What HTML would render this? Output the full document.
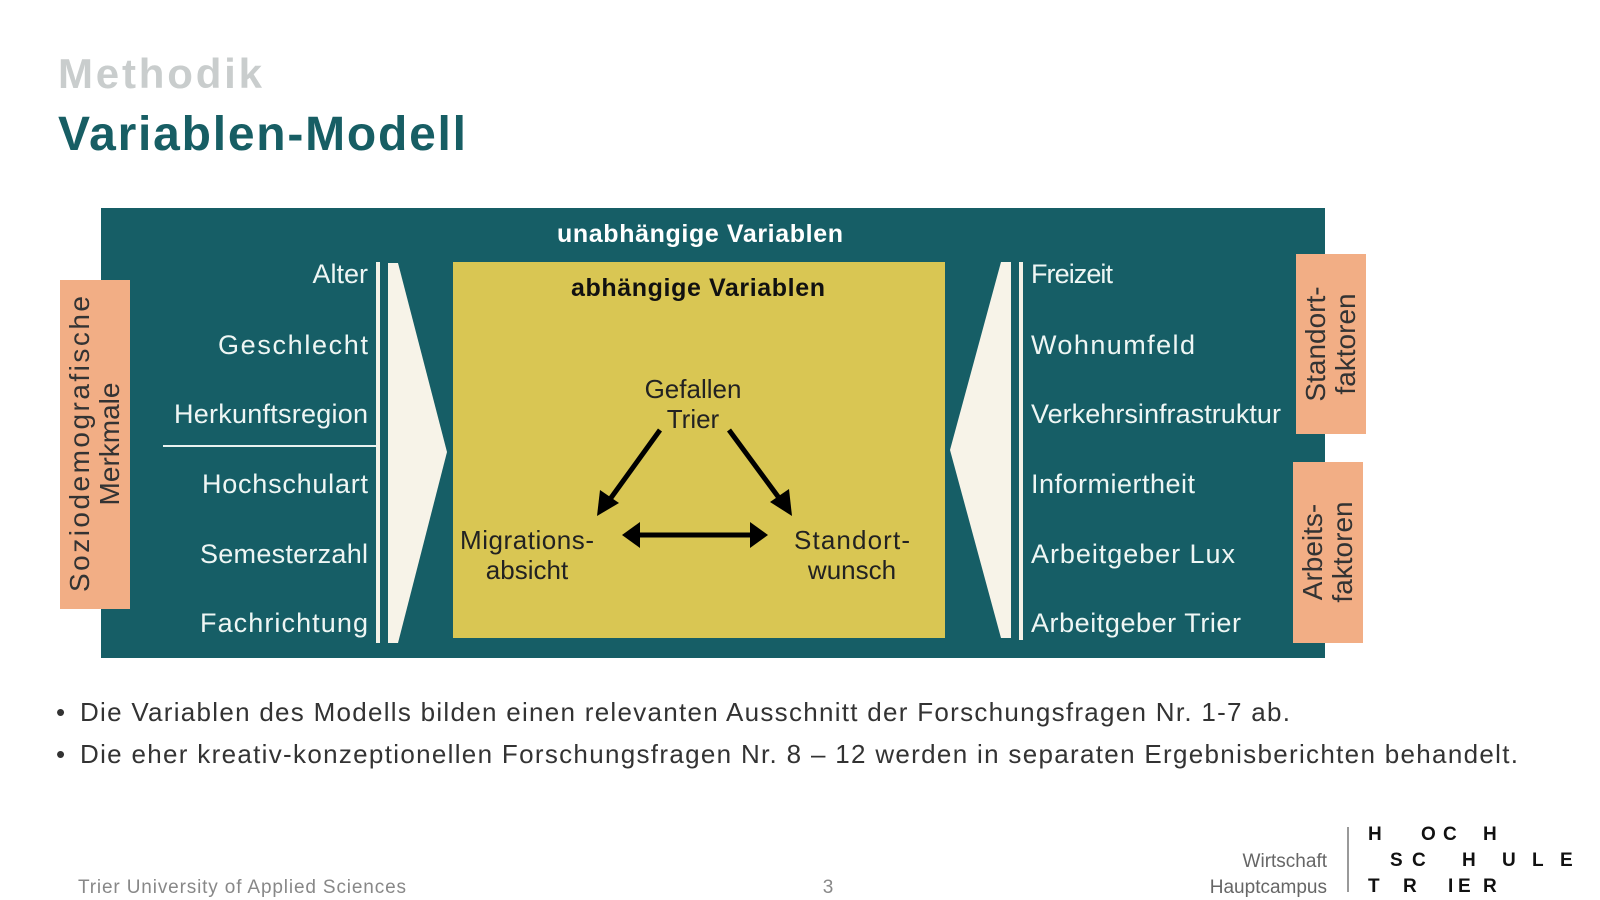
<!DOCTYPE html>
<html><head><meta charset="utf-8"><style>
html,body{margin:0;padding:0;background:#fff;}
svg{display:block;}
text{font-family:"Liberation Sans","DejaVu Sans",sans-serif;}
</style></head><body>
<svg width="1600" height="900" viewBox="0 0 1600 900" xmlns="http://www.w3.org/2000/svg">
<rect width="1600" height="900" fill="#fff"/>
<!-- titles -->
<text x="58" y="88" font-size="42" font-weight="bold" fill="#c9cdcd" textLength="204">Methodik</text>
<text x="58" y="150" font-size="48" font-weight="bold" fill="#175e64" textLength="408">Variablen-Modell</text>
<!-- teal box -->
<rect x="101" y="208" width="1224" height="450" fill="#165e66"/>
<text x="700" y="242" font-size="25" font-weight="bold" fill="#fff" text-anchor="middle" textLength="286">unabhängige Variablen</text>
<!-- left orange -->
<rect x="60" y="280" width="70" height="329" fill="#f2ae85"/>
<g transform="translate(95,444) rotate(-90)" font-size="28" fill="#333" text-anchor="middle">
<text x="0" y="-6" textLength="296">Soziodemografische</text>
<text x="0" y="24">Merkmale</text>
</g>
<!-- left labels -->
<g font-size="27" fill="#eef6f4" text-anchor="end">
<text x="368" y="283">Alter</text>
<text x="368" y="354" textLength="150">Geschlecht</text>
<text x="368" y="423" textLength="194">Herkunftsregion</text>
<text x="368" y="493" textLength="166">Hochschulart</text>
<text x="368" y="563" textLength="168">Semesterzahl</text>
<text x="368" y="632" textLength="168">Fachrichtung</text>
</g>
<line x1="163" y1="446" x2="376" y2="446" stroke="#e8f2f0" stroke-width="2"/>
<rect x="376" y="262" width="4" height="381" fill="#f4f1e6"/>
<polygon points="388,263 398,263 447,452 398,643 388,643" fill="#f7f3e8"/>
<!-- yellow -->
<rect x="453" y="262" width="492" height="376" fill="#d9c653"/>
<text x="698" y="296" font-size="25" font-weight="bold" fill="#111" text-anchor="middle" textLength="254">abhängige Variablen</text>
<g font-size="26" fill="#222" text-anchor="middle">
<text x="693" y="398">Gefallen</text>
<text x="693" y="428">Trier</text>
<text x="527" y="549" textLength="134">Migrations-</text>
<text x="527" y="579">absicht</text>
<text x="852" y="549" textLength="116">Standort-</text>
<text x="852" y="579">wunsch</text>
</g>
<g stroke="#000" stroke-width="5" fill="none">
<line x1="660" y1="430" x2="608" y2="502"/>
<line x1="729" y1="430" x2="782" y2="502"/>
<line x1="636" y1="535" x2="754" y2="535"/>
</g>
<polygon points="597,516 600,490 619,503" fill="#000"/>
<polygon points="792,516 789,489 770,502" fill="#000"/>
<polygon points="622,535 640,522 640,548" fill="#000"/>
<polygon points="768,535 750,522 750,548" fill="#000"/>
<!-- right -->
<polygon points="1001,262 1011,262 1011,638 1001,638 950,450" fill="#f7f3e8"/>
<rect x="1019" y="262" width="4" height="378" fill="#f4f1e6"/>
<g font-size="27" fill="#eef6f4">
<text x="1031" y="283" textLength="82">Freizeit</text>
<text x="1031" y="354" textLength="164">Wohnumfeld</text>
<text x="1031" y="423" textLength="250">Verkehrsinfrastruktur</text>
<text x="1031" y="493" textLength="164">Informiertheit</text>
<text x="1031" y="563" textLength="204">Arbeitgeber Lux</text>
<text x="1031" y="632" textLength="210">Arbeitgeber Trier</text>
</g>
<rect x="1296" y="254" width="70" height="180" fill="#f2ae85"/>
<g transform="translate(1331,344) rotate(-90)" font-size="28" fill="#333" text-anchor="middle">
<text x="0" y="-6">Standort-</text>
<text x="0" y="24">faktoren</text>
</g>
<rect x="1293" y="462" width="70" height="181" fill="#f2ae85"/>
<g transform="translate(1328,552) rotate(-90)" font-size="28" fill="#333" text-anchor="middle">
<text x="0" y="-6">Arbeits-</text>
<text x="0" y="24">faktoren</text>
</g>
<!-- bullets -->
<g font-size="26" fill="#333">
<text x="56" y="721">•</text>
<text x="80" y="721" textLength="1210">Die Variablen des Modells bilden einen relevanten Ausschnitt der Forschungsfragen Nr. 1-7 ab.</text>
<text x="56" y="763">•</text>
<text x="80" y="763" textLength="1438">Die eher kreativ-konzeptionellen Forschungsfragen Nr. 8 – 12 werden in separaten Ergebnisberichten behandelt.</text>
</g>
<!-- footer -->
<text x="78" y="893" font-size="19" fill="#888" textLength="328">Trier University of Applied Sciences</text>
<text x="828" y="893" font-size="19" fill="#888" text-anchor="middle">3</text>
<text x="1327" y="867" font-size="19" fill="#666" text-anchor="end">Wirtschaft</text>
<text x="1327" y="893" font-size="19" fill="#666" text-anchor="end">Hauptcampus</text>
<line x1="1348" y1="827" x2="1348" y2="892" stroke="#999" stroke-width="2"/>
<g font-size="19" font-weight="bold" fill="#111">
<text x="1368" y="840">H</text><text x="1421" y="840">O</text><text x="1443" y="840">C</text><text x="1483" y="840">H</text>
<text x="1390" y="866">S</text><text x="1412" y="866">C</text><text x="1462" y="866">H</text><text x="1502" y="866">U</text><text x="1532" y="866">L</text><text x="1560" y="866">E</text>
<text x="1368" y="892">T</text><text x="1403" y="892">R</text><text x="1448" y="892">I</text><text x="1458" y="892">E</text><text x="1483" y="892">R</text>
</g>
</svg>
</body></html>
